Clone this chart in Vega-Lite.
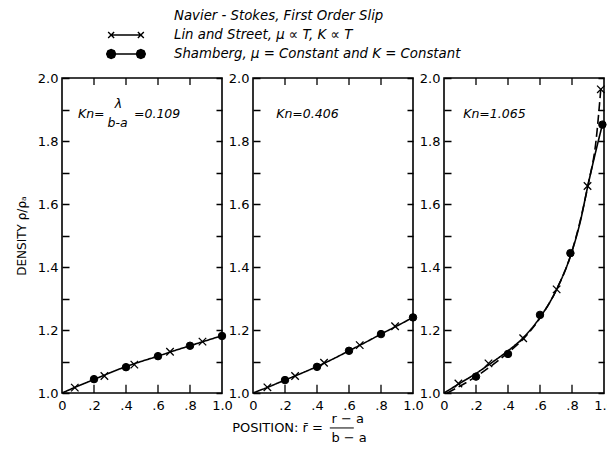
{
  "$schema": "https://vega.github.io/schema/vega-lite/v6.json",
  "padding": {"left": 14, "top": 6, "right": 0, "bottom": 2},
  "background": "white",
  "bounds": "flush",
  "spacing": 31,
  "config": {
    "view": {"stroke": "black", "strokeWidth": 1.6},
    "font": "DejaVu Sans",
    "axis": {
      "grid": false, "domain": false, "ticks": false, "tickSize": 0, "tickCount": 20,
      "gridColor": "black", "gridWidth": 1.3, "gridOpacity": 1,
      "labelColor": "black", "labelFont": "DejaVu Sans", "labelFontSize": 13, "labelOverlap": false, "labelFlush": false,
      "titleColor": "black", "titleFont": "DejaVu Sans", "titleFontWeight": "normal", "titleFontSize": 12
    }
  },
  "datasets": {
    "curves": [
      {"p": 1, "c": "solid", "x": 0, "y": 1.0}, {"p": 1, "c": "solid", "x": 0.1, "y": 1.022}, {"p": 1, "c": "solid", "x": 0.2, "y": 1.043},
      {"p": 1, "c": "solid", "x": 0.3, "y": 1.064}, {"p": 1, "c": "solid", "x": 0.4, "y": 1.084}, {"p": 1, "c": "solid", "x": 0.5, "y": 1.101},
      {"p": 1, "c": "solid", "x": 0.6, "y": 1.117}, {"p": 1, "c": "solid", "x": 0.7, "y": 1.134}, {"p": 1, "c": "solid", "x": 0.8, "y": 1.15},
      {"p": 1, "c": "solid", "x": 0.9, "y": 1.166}, {"p": 1, "c": "solid", "x": 1.0, "y": 1.182},
      {"p": 2, "c": "solid", "x": 0, "y": 1.0}, {"p": 2, "c": "solid", "x": 0.1, "y": 1.02}, {"p": 2, "c": "solid", "x": 0.2, "y": 1.041},
      {"p": 2, "c": "solid", "x": 0.3, "y": 1.062}, {"p": 2, "c": "solid", "x": 0.4, "y": 1.084}, {"p": 2, "c": "solid", "x": 0.5, "y": 1.108},
      {"p": 2, "c": "solid", "x": 0.6, "y": 1.134}, {"p": 2, "c": "solid", "x": 0.7, "y": 1.16}, {"p": 2, "c": "solid", "x": 0.8, "y": 1.187},
      {"p": 2, "c": "solid", "x": 0.9, "y": 1.213}, {"p": 2, "c": "solid", "x": 1.0, "y": 1.24},
      {"p": 3, "c": "solid", "x": 0, "y": 1.0}, {"p": 3, "c": "solid", "x": 0.1, "y": 1.031}, {"p": 3, "c": "solid", "x": 0.2, "y": 1.062},
      {"p": 3, "c": "solid", "x": 0.3, "y": 1.097}, {"p": 3, "c": "solid", "x": 0.4, "y": 1.134}, {"p": 3, "c": "solid", "x": 0.5, "y": 1.178},
      {"p": 3, "c": "solid", "x": 0.6, "y": 1.24}, {"p": 3, "c": "solid", "x": 0.7, "y": 1.325}, {"p": 3, "c": "solid", "x": 0.8, "y": 1.45},
      {"p": 3, "c": "solid", "x": 0.85, "y": 1.54}, {"p": 3, "c": "solid", "x": 0.9, "y": 1.66}, {"p": 3, "c": "solid", "x": 0.95, "y": 1.77},
      {"p": 3, "c": "solid", "x": 0.99, "y": 1.852},
      {"p": 3, "c": "dashed", "x": 0.02, "y": 1.0}, {"p": 3, "c": "dashed", "x": 0.1, "y": 1.022}, {"p": 3, "c": "dashed", "x": 0.2, "y": 1.052},
      {"p": 3, "c": "dashed", "x": 0.3, "y": 1.088}, {"p": 3, "c": "dashed", "x": 0.4, "y": 1.128}, {"p": 3, "c": "dashed", "x": 0.5, "y": 1.174},
      {"p": 3, "c": "dashed", "x": 0.6, "y": 1.238}, {"p": 3, "c": "dashed", "x": 0.7, "y": 1.325}, {"p": 3, "c": "dashed", "x": 0.8, "y": 1.45},
      {"p": 3, "c": "dashed", "x": 0.9, "y": 1.66}, {"p": 3, "c": "dashed", "x": 0.95, "y": 1.8}, {"p": 3, "c": "dashed", "x": 0.98, "y": 1.965}
    ],
    "pts": [
      {"p": 1, "s": "lin", "x": 0.08, "y": 1.017}, {"p": 1, "s": "lin", "x": 0.265, "y": 1.054}, {"p": 1, "s": "lin", "x": 0.452, "y": 1.09},
      {"p": 1, "s": "lin", "x": 0.675, "y": 1.131}, {"p": 1, "s": "lin", "x": 0.878, "y": 1.163},
      {"p": 1, "s": "sham", "x": 0.2, "y": 1.044}, {"p": 1, "s": "sham", "x": 0.4, "y": 1.082}, {"p": 1, "s": "sham", "x": 0.6, "y": 1.117},
      {"p": 1, "s": "sham", "x": 0.8, "y": 1.15}, {"p": 1, "s": "sham", "x": 1.0, "y": 1.181},
      {"p": 2, "s": "lin", "x": 0.09, "y": 1.018}, {"p": 2, "s": "lin", "x": 0.263, "y": 1.054}, {"p": 2, "s": "lin", "x": 0.444, "y": 1.096},
      {"p": 2, "s": "lin", "x": 0.667, "y": 1.152}, {"p": 2, "s": "lin", "x": 0.888, "y": 1.212},
      {"p": 2, "s": "sham", "x": 0.2, "y": 1.041}, {"p": 2, "s": "sham", "x": 0.4, "y": 1.083}, {"p": 2, "s": "sham", "x": 0.6, "y": 1.134},
      {"p": 2, "s": "sham", "x": 0.8, "y": 1.187}, {"p": 2, "s": "sham", "x": 1.0, "y": 1.24},
      {"p": 3, "s": "lin", "x": 0.09, "y": 1.03}, {"p": 3, "s": "lin", "x": 0.278, "y": 1.094}, {"p": 3, "s": "lin", "x": 0.495, "y": 1.174},
      {"p": 3, "s": "lin", "x": 0.704, "y": 1.329}, {"p": 3, "s": "lin", "x": 0.897, "y": 1.657}, {"p": 3, "s": "lin", "x": 0.98, "y": 1.964},
      {"p": 3, "s": "sham", "x": 0.2, "y": 1.052}, {"p": 3, "s": "sham", "x": 0.4, "y": 1.124}, {"p": 3, "s": "sham", "x": 0.6, "y": 1.248},
      {"p": 3, "s": "sham", "x": 0.79, "y": 1.444}, {"p": 3, "s": "sham", "x": 0.99, "y": 1.852}
    ],
    "xt": [{"x": 0.2}, {"x": 0.4}, {"x": 0.6}, {"x": 0.8}],
    "series": [
      {"s": "Navier - Stokes, First Order Slip"},
      {"s": "Lin and Street, μ ∝ T, K ∝ T"},
      {"s": "Shamberg, μ = Constant and K = Constant"}
    ],
    "notes": [
      {"p": 1, "x": 0.1, "y": 1.886, "t": "Kn="},
      {"p": 1, "x": 0.33, "y": 1.916, "t": "λ"},
      {"p": 1, "x": 0.285, "y": 1.856, "t": "b-a"},
      {"p": 1, "x": 0.45, "y": 1.886, "t": "=0.109"},
      {"p": 2, "x": 0.145, "y": 1.886, "t": "Kn=0.406"},
      {"p": 3, "x": 0.12, "y": 1.886, "t": "Kn=1.065"}
    ],
    "xtitle": [
      {"x": -0.13, "y": 0.889, "t": "POSITION: r̄ ="},
      {"x": 0.49, "y": 0.917, "t": "r − a"},
      {"x": 0.49, "y": 0.858, "t": "b − a"}
    ],
    "xbar": [{"x": 0.48, "x2": 0.63, "y": 0.889}]
  },
  "hconcat": [
    {
      "width": 160, "height": 315,
      "layer": [
        {
          "data": {"name": "curves"}, "transform": [{"filter": "datum.p == 1"}],
          "mark": {"type": "line", "color": "black", "strokeWidth": 1.6, "interpolate": "monotone"},
          "encoding": {
            "x": {"field": "x", "type": "quantitative", "scale": {"domain": [0, 1], "nice": false, "zero": false},
                  "axis": {"values": [0, 0.2, 0.4, 0.6, 0.8, 1], "tickCount": 20, "labelPadding": 6, "labelOverlap": false, "title": null,
                           "labelExpr": "datum.value == 0 ? '0' : (datum.value == 1 ? '1.0' : replace(format(datum.value, '.1f'), '0.', '.'))"}},
            "y": {"field": "y", "type": "quantitative", "scale": {"domain": [1, 2], "nice": false, "zero": false},
                  "axis": {"values": [1, 1.1, 1.2, 1.3, 1.4, 1.5, 1.6, 1.7, 1.8, 1.9, 2], "tickCount": 20, "grid": true, "gridDash": [7, 147, 6, 1000], "labelPadding": 4, "labelOverlap": false,
                           "title": "DENSITY  ρ/ρₐ", "titlePadding": 9,
                           "labelExpr": "round(datum.value * 10) % 2 == 0 ? format(datum.value, '.1f') : ''"}},
            "strokeDash": {"field": "c", "type": "nominal", "scale": {"domain": ["solid", "dashed"], "range": [[1, 0], [9, 4]]}, "legend": null}
          }
        },
        {
          "data": {"name": "xt"},
          "mark": {"type": "rule", "color": "black", "strokeWidth": 1.3},
          "encoding": {"x": {"field": "x", "type": "quantitative"}, "y": {"datum": 1, "type": "quantitative"}, "y2": {"datum": 1.026}}
        },
        {
          "data": {"name": "xt"},
          "mark": {"type": "rule", "color": "black", "strokeWidth": 1.3},
          "encoding": {"x": {"field": "x", "type": "quantitative"}, "y": {"datum": 2, "type": "quantitative"}, "y2": {"datum": 1.978}}
        },
        {
          "data": {"name": "pts"}, "transform": [{"filter": "datum.p == 1 && datum.s == 'lin'"}],
          "mark": {"type": "point", "shape": "M-1,-1L1,1M-1,1L1,-1", "filled": false, "stroke": "black", "strokeWidth": 1.3, "size": 56, "opacity": 1},
          "encoding": {"x": {"field": "x", "type": "quantitative"}, "y": {"field": "y", "type": "quantitative"}}
        },
        {
          "data": {"name": "pts"}, "transform": [{"filter": "datum.p == 1 && datum.s == 'sham'"}],
          "mark": {"type": "point", "shape": "circle", "filled": true, "fill": "black", "stroke": "black", "strokeWidth": 1, "size": 56, "opacity": 1},
          "encoding": {"x": {"field": "x", "type": "quantitative"}, "y": {"field": "y", "type": "quantitative"}}
        },
        {
          "data": {"name": "series"}, "transform": [{"filter": "datum.s == 'none'"}],
          "mark": {"type": "point", "filled": true, "fill": "black", "stroke": "black", "strokeWidth": 1.4, "opacity": 1},
          "encoding": {
            "shape": {"field": "s", "type": "nominal",
              "scale": {"domain": ["Navier - Stokes, First Order Slip", "Lin and Street, μ ∝ T, K ∝ T", "Shamberg, μ = Constant and K = Constant"],
                        "range": ["M0,0", "M-1.65,0L1.65,0M-1.98,-0.33L-1.32,0.33M-1.98,0.33L-1.32,-0.33M1.32,-0.33L1.98,0.33M1.32,0.33L1.98,-0.33", "M-1.15,0L-1.296,0.354L-1.65,0.5L-2.004,0.354L-2.15,0L-2.004,-0.354L-1.65,-0.5L-1.296,-0.354ZM2.15,0L2.004,0.354L1.65,0.5L1.296,0.354L1.15,0L1.296,-0.354L1.65,-0.5L2.004,-0.354ZM-1.65,0L1.65,0"]},
              "legend": {"orient": "none", "legendX": 54, "legendY": -72, "title": null, "direction": "vertical", "padding": 0,
                         "symbolSize": 324, "symbolStrokeWidth": 1.4,
                         "labelFont": "DejaVu Sans", "labelFontStyle": "italic", "labelFontSize": 13.3, "labelColor": "black",
                         "labelOffset": 38, "labelLimit": 500, "rowPadding": 2}}
          }
        },
        {
          "data": {"name": "notes"}, "transform": [{"filter": "datum.p == 1"}],
          "mark": {"type": "text", "align": "left", "baseline": "middle", "fontStyle": "italic", "fontSize": 12.5, "color": "black"},
          "encoding": {
            "x": {"field": "x", "type": "quantitative"},
            "y": {"field": "y", "type": "quantitative"},
            "text": {"field": "t"}
          }
        }
      ]
    },
    {
      "width": 160, "height": 315,
      "layer": [
        {
          "data": {"name": "curves"}, "transform": [{"filter": "datum.p == 2"}],
          "mark": {"type": "line", "color": "black", "strokeWidth": 1.6, "interpolate": "monotone"},
          "encoding": {
            "x": {"field": "x", "type": "quantitative", "scale": {"domain": [0, 1], "nice": false, "zero": false},
                  "axis": {"values": [0, 0.2, 0.4, 0.6, 0.8, 1], "tickCount": 20, "labelPadding": 6, "labelOverlap": false, "title": null,
                           "labelExpr": "datum.value == 0 ? '0' : (datum.value == 1 ? '1.0' : replace(format(datum.value, '.1f'), '0.', '.'))"}},
            "y": {"field": "y", "type": "quantitative", "scale": {"domain": [1, 2], "nice": false, "zero": false},
                  "axis": {"values": [1, 1.1, 1.2, 1.3, 1.4, 1.5, 1.6, 1.7, 1.8, 1.9, 2], "tickCount": 20, "grid": true, "gridDash": [7, 147, 6, 1000], "labelPadding": 4, "labelOverlap": false, "title": null,
                           "labelExpr": "round(datum.value * 10) % 2 == 0 ? format(datum.value, '.1f') : ''"}},
            "strokeDash": {"field": "c", "type": "nominal", "scale": {"domain": ["solid", "dashed"], "range": [[1, 0], [9, 4]]}, "legend": null}
          }
        },
        {
          "data": {"name": "xt"},
          "mark": {"type": "rule", "color": "black", "strokeWidth": 1.3},
          "encoding": {"x": {"field": "x", "type": "quantitative"}, "y": {"datum": 1, "type": "quantitative"}, "y2": {"datum": 1.026}}
        },
        {
          "data": {"name": "xt"},
          "mark": {"type": "rule", "color": "black", "strokeWidth": 1.3},
          "encoding": {"x": {"field": "x", "type": "quantitative"}, "y": {"datum": 2, "type": "quantitative"}, "y2": {"datum": 1.978}}
        },
        {
          "data": {"name": "pts"}, "transform": [{"filter": "datum.p == 2 && datum.s == 'lin'"}],
          "mark": {"type": "point", "shape": "M-1,-1L1,1M-1,1L1,-1", "filled": false, "stroke": "black", "strokeWidth": 1.3, "size": 56, "opacity": 1},
          "encoding": {"x": {"field": "x", "type": "quantitative"}, "y": {"field": "y", "type": "quantitative"}}
        },
        {
          "data": {"name": "pts"}, "transform": [{"filter": "datum.p == 2 && datum.s == 'sham'"}],
          "mark": {"type": "point", "shape": "circle", "filled": true, "fill": "black", "stroke": "black", "strokeWidth": 1, "size": 56, "opacity": 1},
          "encoding": {"x": {"field": "x", "type": "quantitative"}, "y": {"field": "y", "type": "quantitative"}}
        },
        {
          "data": {"name": "notes"}, "transform": [{"filter": "datum.p == 2"}],
          "mark": {"type": "text", "align": "left", "baseline": "middle", "fontStyle": "italic", "fontSize": 12.5, "color": "black"},
          "encoding": {
            "x": {"field": "x", "type": "quantitative"},
            "y": {"field": "y", "type": "quantitative"},
            "text": {"field": "t"}
          }
        },
        {
          "data": {"name": "xtitle"},
          "mark": {"type": "text", "align": "left", "baseline": "middle", "fontSize": 13, "color": "black"},
          "encoding": {
            "x": {"field": "x", "type": "quantitative"},
            "y": {"field": "y", "type": "quantitative"},
            "text": {"field": "t"}
          }
        },
        {
          "data": {"name": "xbar"},
          "mark": {"type": "rule", "color": "black", "strokeWidth": 1},
          "encoding": {
            "x": {"field": "x", "type": "quantitative"},
            "x2": {"field": "x2"},
            "y": {"field": "y", "type": "quantitative"}
          }
        }
      ]
    },
    {
      "width": 160, "height": 315,
      "layer": [
        {
          "data": {"name": "curves"}, "transform": [{"filter": "datum.p == 3"}],
          "mark": {"type": "line", "color": "black", "strokeWidth": 1.6, "interpolate": "monotone"},
          "encoding": {
            "x": {"field": "x", "type": "quantitative", "scale": {"domain": [0, 1], "nice": false, "zero": false},
                  "axis": {"values": [0, 0.2, 0.4, 0.6, 0.8, 1], "tickCount": 20, "labelPadding": 6, "labelOverlap": false, "title": null,
                           "labelExpr": "datum.value == 0 ? '0' : (datum.value == 1 ? '1.0' : replace(format(datum.value, '.1f'), '0.', '.'))"}},
            "y": {"field": "y", "type": "quantitative", "scale": {"domain": [1, 2], "nice": false, "zero": false},
                  "axis": {"values": [1, 1.1, 1.2, 1.3, 1.4, 1.5, 1.6, 1.7, 1.8, 1.9, 2], "tickCount": 20, "grid": true, "gridDash": [7, 147, 6, 1000], "labelPadding": 4, "labelOverlap": false, "title": null,
                           "labelExpr": "round(datum.value * 10) % 2 == 0 ? format(datum.value, '.1f') : ''"}},
            "strokeDash": {"field": "c", "type": "nominal", "scale": {"domain": ["solid", "dashed"], "range": [[1, 0], [9, 4]]}, "legend": null}
          }
        },
        {
          "data": {"name": "xt"},
          "mark": {"type": "rule", "color": "black", "strokeWidth": 1.3},
          "encoding": {"x": {"field": "x", "type": "quantitative"}, "y": {"datum": 1, "type": "quantitative"}, "y2": {"datum": 1.026}}
        },
        {
          "data": {"name": "xt"},
          "mark": {"type": "rule", "color": "black", "strokeWidth": 1.3},
          "encoding": {"x": {"field": "x", "type": "quantitative"}, "y": {"datum": 2, "type": "quantitative"}, "y2": {"datum": 1.978}}
        },
        {
          "data": {"name": "pts"}, "transform": [{"filter": "datum.p == 3 && datum.s == 'lin'"}],
          "mark": {"type": "point", "shape": "M-1,-1L1,1M-1,1L1,-1", "filled": false, "stroke": "black", "strokeWidth": 1.3, "size": 56, "opacity": 1},
          "encoding": {"x": {"field": "x", "type": "quantitative"}, "y": {"field": "y", "type": "quantitative"}}
        },
        {
          "data": {"name": "pts"}, "transform": [{"filter": "datum.p == 3 && datum.s == 'sham'"}],
          "mark": {"type": "point", "shape": "circle", "filled": true, "fill": "black", "stroke": "black", "strokeWidth": 1, "size": 56, "opacity": 1},
          "encoding": {"x": {"field": "x", "type": "quantitative"}, "y": {"field": "y", "type": "quantitative"}}
        },
        {
          "data": {"name": "notes"}, "transform": [{"filter": "datum.p == 3"}],
          "mark": {"type": "text", "align": "left", "baseline": "middle", "fontStyle": "italic", "fontSize": 12.5, "color": "black"},
          "encoding": {
            "x": {"field": "x", "type": "quantitative"},
            "y": {"field": "y", "type": "quantitative"},
            "text": {"field": "t"}
          }
        }
      ]
    }
  ]
}
